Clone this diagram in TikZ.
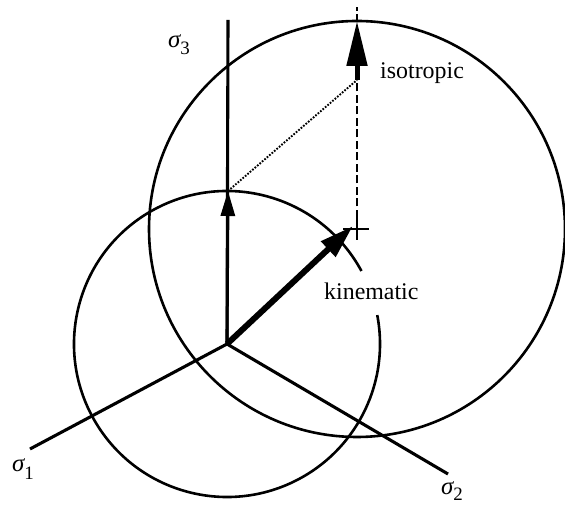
\documentclass[tikz,border=0pt]{standalone}
\usepackage{fontspec}
\setmainfont{Liberation Serif}
\usetikzlibrary{arrows.meta}
\begin{document}
\begin{tikzpicture}[x=1bp,y=1bp,
  axis/.style={line width=3.1bp},
  circ/.style={line width=2.6bp},
  lbl/.style={anchor=base west, inner sep=0pt, font=\fontsize{24}{28}\selectfont},
  sig/.style={anchor=base west, inner sep=0pt, font=\fontsize{25}{28}\selectfont\itshape},
]
\useasboundingbox (0,0) rectangle (565,508);
% key points
\coordinate (O) at (227,164);
\coordinate (S1) at (30,59);
\coordinate (S2) at (448,34);
\coordinate (S3) at (228,488);
\coordinate (K) at (357,279);
\coordinate (A3) at (228,317);
\coordinate (Ibase) at (357,428);
\coordinate (Itip) at (357,487);
\coordinate (Dtop) at (357,501);
\coordinate (Dbot) at (357,290);
\coordinate (Kv) at (357,268);
\coordinate (Kl) at (343,279);
\coordinate (Kr) at (369,279);
\coordinate (Ktip) at (353,282);
% circles
\draw[circ] (K) circle[radius=208];
\draw[circ] (O) ++(28.5:153) arc[start angle=28.5, end angle=370.9, radius=153];
% axes
\draw[axis] (O) -- (S1);
\draw[axis] (O) -- (S2);
\draw[axis] (O) -- (S3);
% dashed and dotted
\draw[line width=2.2bp, dash pattern=on 8bp off 3.5bp] (Dbot) -- (Dtop);
\draw[line width=1.9bp, dash pattern=on 1.7bp off 1.5bp] (A3) -- (Ibase);
% arrows
\draw[line width=3bp, -{Triangle[length=25bp,width=14bp]}] (O) -- (A3);
\draw[line width=6bp, -{Triangle[length=34bp,width=20bp]}] (O) -- (Ktip);
\draw[line width=5bp, -{Triangle[length=45bp,width=20bp]}] (Ibase) -- (Itip);
% cross
\draw[line width=2.6bp] (Kl) -- (Kr);
\draw[line width=2.6bp] (Kv) -- (Dbot);
% labels
\node[lbl] (iso) at (380,429) {isotropic};
\node[lbl] (kin) at (324,208) {kinematic};
\node[sig] (l3) at (168,460) {σ\raisebox{-7bp}{\upshape\fontsize{19}{20}\selectfont 3}};
\node[sig] (l1) at (12,36) {σ\raisebox{-8bp}{\upshape\fontsize{19}{20}\selectfont 1}};
\node[sig] (l2) at (441,13) {σ\raisebox{-6bp}{\upshape\fontsize{19}{20}\selectfont 2}};
\end{tikzpicture}
\end{document}
